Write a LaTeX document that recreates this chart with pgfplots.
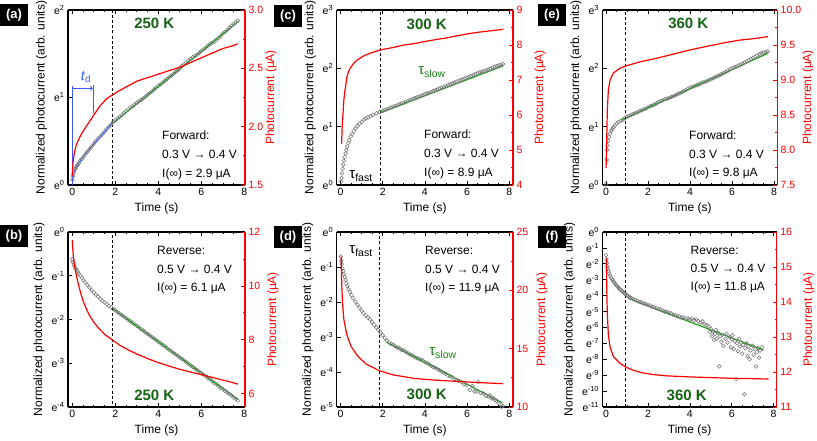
\documentclass[border=0pt]{standalone}
\usepackage{pgfplots}
\pgfplotsset{compat=1.18}
\usepackage{fontspec}
\setmainfont{Liberation Sans}
\setsansfont{Liberation Sans}
\definecolor{fitg}{RGB}{30,160,30}
\definecolor{tg}{RGB}{20,100,20}
\definecolor{dg}{RGB}{115,115,115}
\definecolor{rd}{RGB}{255,0,0}
\definecolor{bl}{RGB}{60,90,255}
\pgfplotsset{
 base/.style={scale only axis, height=175pt, anchor=south west, tick align=inside,
   major tick length=4pt, minor tick length=2.2pt,
   tick label style={font=\fontsize{10.5}{12}\selectfont},
   label style={font=\fontsize{12}{14}\selectfont}},
 lax/.style={base, axis y line*=left, axis line style={line width=1.3pt},
   xtick={0,2,4,6,8}, xticklabels={0,2,4,6,8}, minor x tick num=3,
   tick style={black, line width=0.7pt},
   xlabel={Time (s)}, ylabel={Normalized photocurrent (arb. units)}},
 rax/.style={base, axis y line*=right, axis x line=none,
   axis line style={rd, line width=1.3pt},
   tick style={rd, line width=0.7pt},
   yticklabel style={text=rd},
   ylabel style={text=rd, at={(rel axis cs:#1,0.5)}, anchor=center},
   ylabel={Photocurrent (μA)}, minor y tick num=1},
 pts/.style={only marks, mark=o, mark size=1.9pt, color=dg, mark options={line width=0.5pt}},
 rl/.style={rd, line width=1.2pt, no marks},
 gl/.style={fitg, line width=1.2pt, no marks},
 dl/.style={black, line width=0.8pt, dash pattern=on 3pt off 2.2pt, no marks},
}
\newcommand{\ann}{\fontsize{12}{14}\selectfont}
\newcommand{\tk}{\bfseries\fontsize{15}{15}\selectfont}
\newcommand{\plab}[2]{\node[fill=black, text=white, font=\bfseries\fontsize{13}{13}\selectfont, minimum width=28pt, minimum height=22pt, inner sep=0pt] at #1 {#2};}
\begin{document}
\begin{tikzpicture}
\path[use as bounding box] (0,0) rectangle (817pt,-440pt);

% ---------------- (a)
\begin{axis}[lax, at={(68pt,-185pt)}, width=177pt, xmin=-0.2, xmax=8.03, ymin=0, ymax=2,
  ytick={0,1,2}, yticklabels={e\textsuperscript{0},e\textsuperscript{1},e\textsuperscript{2}}]
\addplot[pts] coordinates {(0.00,0.06)(0.03,0.10)(0.06,0.13)(0.10,0.16)(0.15,0.19)(0.20,0.21)(0.25,0.23)(0.30,0.25)(0.38,0.28)(0.45,0.30)(0.52,0.32)(0.60,0.35)(0.70,0.38)(0.80,0.41)(0.90,0.44)(1.00,0.47)(1.10,0.50)(1.20,0.53)(1.30,0.555)(1.40,0.58)(1.50,0.61)(1.60,0.64)(1.70,0.665)(1.80,0.69)(1.90,0.72)
(2.0,0.74)(2.1,0.76)(2.2,0.78)(2.3,0.80)(2.4,0.82)(2.5,0.845)(2.6,0.865)(2.7,0.885)(2.8,0.90)(2.9,0.92)(3.0,0.94)(3.1,0.955)(3.2,0.975)(3.3,0.99)(3.4,1.01)(3.5,1.03)(3.6,1.05)(3.7,1.07)(3.8,1.09)(3.9,1.115)(4.0,1.135)(4.1,1.15)(4.2,1.17)(4.3,1.19)(4.4,1.21)(4.5,1.23)(4.6,1.25)(4.7,1.27)(4.8,1.29)(4.9,1.31)(5.0,1.33)(5.1,1.36)(5.2,1.38)(5.3,1.40)(5.4,1.42)(5.5,1.44)(5.6,1.46)(5.7,1.475)(5.8,1.49)(5.9,1.51)(6.0,1.53)(6.1,1.55)(6.2,1.57)(6.3,1.59)(6.4,1.61)(6.5,1.625)(6.6,1.64)(6.7,1.66)(6.8,1.68)(6.9,1.705)(7.0,1.73)(7.1,1.75)(7.2,1.77)(7.3,1.795)(7.4,1.82)(7.5,1.84)(7.6,1.86)(7.7,1.88)};
\addplot[bl, line width=0.9pt, no marks] coordinates {(0,0.06)(0.1,0.16)(0.3,0.25)(0.6,0.35)(1.0,0.47)(1.4,0.58)(1.85,0.705)};
\addplot[gl] coordinates {(1.85,0.70)(7.72,1.87)};
\addplot[dl] coordinates {(1.85,-1)(1.85,3)};
\draw[bl, line width=0.9pt] (axis cs:0,0) -- (axis cs:0,1.13);
\draw[bl, line width=0.9pt, ->] (axis cs:0,1.105) -- (axis cs:0.96,1.105);
\draw[bl, line width=0.9pt] (axis cs:0.98,0.82) -- (axis cs:0.98,1.14);
\end{axis}
\begin{axis}[rax=1.147, at={(68pt,-185pt)}, width=177pt, xmin=-0.2, xmax=8.03, ymin=1.5, ymax=3,
  ytick={1.5,2,2.5,3}, yticklabels={1.5,2.0,2.5,3.0}]
\addplot[rl] coordinates {(0,1.58)(0.02,1.66)(0.05,1.72)(0.1,1.78)(0.15,1.82)(0.2,1.85)(0.3,1.89)(0.4,1.93)(0.5,1.96)(0.6,1.99)(0.75,2.03)(0.9,2.07)(1.0,2.10)(1.15,2.14)(1.3,2.18)(1.45,2.21)(1.6,2.24)(1.85,2.27)(2.2,2.31)(2.6,2.35)(3.0,2.39)(3.5,2.42)(4.0,2.45)(4.5,2.48)(5.0,2.51)(5.5,2.55)(6.0,2.59)(6.5,2.63)(7.0,2.67)(7.4,2.69)(7.7,2.71)};
\end{axis}

% ---------------- (c)
\begin{axis}[lax, at={(336.7pt,-185pt)}, width=176.3pt, xmin=-0.18, xmax=8.18, ymin=0, ymax=3,
  ytick={0,1,2,3}, yticklabels={e\textsuperscript{0},e\textsuperscript{1},e\textsuperscript{2},e\textsuperscript{3}}]
\addplot[pts] coordinates {(0.03,0.06)(0.05,0.12)(0.07,0.2)(0.1,0.28)(0.13,0.35)(0.16,0.42)(0.2,0.48)(0.24,0.54)(0.28,0.6)(0.32,0.66)(0.37,0.72)(0.42,0.77)(0.48,0.83)(0.55,0.88)(0.63,0.93)(0.7,0.97)(0.79,1.01)(0.9,1.05)(1.0,1.08)(1.1,1.12)(1.2,1.14)(1.3,1.16)(1.42,1.18)(1.55,1.2)(1.7,1.23)(1.85,1.25)
(2.0,1.27)(2.1,1.285)(2.2,1.30)(2.3,1.315)(2.4,1.33)(2.5,1.345)(2.6,1.355)(2.7,1.37)(2.8,1.385)(2.9,1.40)(3.0,1.41)(3.1,1.425)(3.2,1.44)(3.3,1.455)(3.4,1.47)(3.5,1.485)(3.6,1.50)(3.7,1.51)(3.8,1.525)(3.9,1.54)(4.0,1.555)(4.1,1.57)(4.2,1.58)(4.3,1.595)(4.4,1.61)(4.5,1.625)(4.6,1.64)(4.7,1.655)(4.8,1.67)(4.9,1.685)(5.0,1.70)(5.1,1.715)(5.2,1.73)(5.3,1.74)(5.4,1.755)(5.5,1.77)(5.6,1.785)(5.7,1.80)(5.8,1.81)(5.9,1.825)(6.0,1.84)(6.1,1.855)(6.2,1.87)(6.3,1.885)(6.4,1.90)(6.5,1.915)(6.6,1.93)(6.7,1.94)(6.8,1.95)(6.9,1.965)(7.0,1.98)(7.1,1.995)(7.2,2.01)(7.3,2.025)(7.4,2.04)(7.5,2.05)(7.6,2.065)(7.7,2.075)};
\addplot[gl] coordinates {(1.89,1.24)(7.7,2.04)};
\addplot[dl] coordinates {(1.88,-1)(1.88,4)};
\end{axis}
\begin{axis}[rax=1.153, at={(336.7pt,-185pt)}, width=176.3pt, xmin=-0.18, xmax=8.18, ymin=4, ymax=9,
  ytick={4,5,6,7,8,9}, yticklabels={4,5,6,7,8,9}]
\addplot[rl] coordinates {(0.05,5.17)(0.08,5.67)(0.12,6.05)(0.16,6.43)(0.2,6.65)(0.24,6.81)(0.31,7.10)(0.39,7.25)(0.47,7.35)(0.63,7.48)(0.79,7.57)(1.1,7.69)(1.42,7.77)(1.89,7.86)(2.5,7.93)(3.0,8.0)(3.5,8.04)(4.0,8.1)(4.57,8.16)(5.0,8.2)(5.5,8.26)(6.14,8.33)(6.6,8.37)(7.2,8.41)(7.72,8.45)};
\end{axis}

% ---------------- (e)
\begin{axis}[lax, at={(602.5pt,-185pt)}, width=174.7pt, xmin=-0.17, xmax=8.15, ymin=0, ymax=3,
  ytick={0,1,2,3}, yticklabels={e\textsuperscript{0},e\textsuperscript{1},e\textsuperscript{2},e\textsuperscript{3}}]
\addplot[pts] coordinates {(0.00,0.01)(0.03,0.43)(0.05,0.6)(0.07,0.68)(0.1,0.75)(0.14,0.82)(0.19,0.88)(0.25,0.93)(0.3,0.96)(0.35,0.99)(0.42,1.02)(0.5,1.05)(0.6,1.08)(0.7,1.10)(0.8,1.12)(0.9,1.15)(1.0,1.17)(1.1,1.19)(1.2,1.2)(1.3,1.22)(1.4,1.23)(1.5,1.25)(1.6,1.27)(1.7,1.28)(1.8,1.30)(1.9,1.31)(2.0,1.33)(2.1,1.35)(2.2,1.36)(2.3,1.38)(2.4,1.40)(2.5,1.42)(2.6,1.44)(2.7,1.45)(2.8,1.47)(2.9,1.48)(3.0,1.49)(3.1,1.51)(3.2,1.52)(3.3,1.54)(3.4,1.56)(3.5,1.57)(3.6,1.59)(3.7,1.61)(3.8,1.63)(3.9,1.65)(4.0,1.67)(4.1,1.68)(4.2,1.69)(4.3,1.71)(4.4,1.72)(4.5,1.74)(4.6,1.76)(4.7,1.77)(4.8,1.78)(4.9,1.80)(5.0,1.81)(5.1,1.83)(5.2,1.85)(5.3,1.87)(5.4,1.88)(5.5,1.90)(5.6,1.92)(5.7,1.94)(5.8,1.96)(5.9,1.98)(6.0,2.0)(6.1,2.02)(6.2,2.03)(6.3,2.05)(6.4,2.06)(6.5,2.08)(6.6,2.10)(6.7,2.12)(6.8,2.14)(6.9,2.16)(7.0,2.18)(7.1,2.20)(7.2,2.22)(7.3,2.24)(7.4,2.26)(7.5,2.27)(7.6,2.28)(7.7,2.29)};
\addplot[gl] coordinates {(0.75,1.12)(7.72,2.26)};
\addplot[dl] coordinates {(0.93,-1)(0.93,4)};
\end{axis}
\begin{axis}[rax=1.177, at={(602.5pt,-185pt)}, width=174.7pt, xmin=-0.17, xmax=8.15, ymin=7.5, ymax=10,
  ytick={7.5,8,8.5,9,9.5,10}, yticklabels={7.5,8.0,8.5,9.0,9.5,10.0}]
\addplot[rl] coordinates {(0,7.74)(0.03,8.14)(0.06,8.57)(0.11,8.86)(0.19,9.0)(0.35,9.1)(0.67,9.17)(0.94,9.2)(1.62,9.26)(2.4,9.31)(3.2,9.37)(4.0,9.43)(4.79,9.48)(5.6,9.53)(6.37,9.57)(7.0,9.59)(7.72,9.62)};
\end{axis}

% ---------------- (b)
\begin{axis}[lax, at={(68pt,-407pt)}, width=177pt, xmin=-0.2, xmax=8.03, ymin=-4, ymax=0,
  ytick={-4,-3,-2,-1,0}, yticklabels={e\textsuperscript{-4},e\textsuperscript{-3},e\textsuperscript{-2},e\textsuperscript{-1},e\textsuperscript{0}}]
\addplot[pts] coordinates {(0.0,-0.62)(0.03,-0.68)(0.06,-0.73)(0.1,-0.78)(0.15,-0.83)(0.2,-0.87)(0.25,-0.91)(0.3,-0.95)(0.38,-1.0)(0.45,-1.05)(0.52,-1.1)(0.6,-1.15)(0.7,-1.21)(0.8,-1.27)(0.9,-1.33)(1.0,-1.38)(1.1,-1.43)(1.2,-1.48)(1.3,-1.53)(1.4,-1.57)(1.5,-1.61)(1.6,-1.65)(1.7,-1.69)(1.8,-1.72)(1.9,-1.76)
(2.0,-1.79)(2.1,-1.83)(2.2,-1.86)(2.3,-1.90)(2.4,-1.93)(2.5,-1.97)(2.6,-2.01)(2.7,-2.04)(2.8,-2.07)(2.9,-2.11)(3.0,-2.15)(3.1,-2.18)(3.2,-2.22)(3.3,-2.25)(3.4,-2.29)(3.5,-2.33)(3.6,-2.36)(3.7,-2.40)(3.8,-2.43)(3.9,-2.47)(4.0,-2.51)(4.1,-2.54)(4.2,-2.58)(4.3,-2.61)(4.4,-2.65)(4.5,-2.69)(4.6,-2.72)(4.7,-2.76)(4.8,-2.79)(4.9,-2.83)(5.0,-2.87)(5.1,-2.90)(5.2,-2.94)(5.3,-2.97)(5.4,-3.01)(5.5,-3.05)(5.6,-3.08)(5.7,-3.12)(5.8,-3.15)(5.9,-3.19)(6.0,-3.23)(6.1,-3.26)(6.2,-3.30)(6.3,-3.34)(6.4,-3.37)(6.5,-3.41)(6.6,-3.45)(6.7,-3.48)(6.8,-3.52)(6.9,-3.56)(7.0,-3.59)(7.1,-3.63)(7.2,-3.67)(7.3,-3.70)(7.4,-3.74)(7.5,-3.78)(7.6,-3.81)(7.7,-3.85)};
\addplot[gl] coordinates {(1.85,-1.74)(7.7,-3.83)};
\addplot[dl] coordinates {(1.85,-5)(1.85,1)};
\end{axis}
\begin{axis}[rax=1.158, at={(68pt,-407pt)}, width=177pt, xmin=-0.2, xmax=8.03, ymin=5.5, ymax=12,
  ytick={6,8,10,12}, yticklabels={6,8,10,12}]
\addplot[rl] coordinates {(0,11.7)(0.02,11.4)(0.05,11.1)(0.1,10.8)(0.15,10.55)(0.2,10.35)(0.3,10.0)(0.4,9.7)(0.5,9.45)(0.65,9.15)(0.8,8.9)(1.0,8.65)(1.2,8.45)(1.5,8.2)(1.85,8.0)(2.2,7.8)(2.6,7.62)(3.0,7.47)(3.5,7.3)(4.0,7.15)(4.5,7.02)(5.0,6.9)(5.5,6.8)(6.0,6.7)(6.5,6.6)(7.0,6.5)(7.4,6.42)(7.7,6.35)};
\end{axis}

% ---------------- (d)
\begin{axis}[lax, at={(336.7pt,-407pt)}, width=176.3pt, xmin=-0.18, xmax=8.18, ymin=-5, ymax=0,
  ytick={-5,-4,-3,-2,-1,0}, yticklabels={e\textsuperscript{-5},e\textsuperscript{-4},e\textsuperscript{-3},e\textsuperscript{-2},e\textsuperscript{-1},e\textsuperscript{0}}]
\addplot[pts] coordinates {(0.02,-0.7)(0.04,-0.82)(0.06,-0.92)(0.09,-1.04)(0.12,-1.12)(0.16,-1.2)(0.2,-1.29)(0.24,-1.37)(0.28,-1.46)(0.32,-1.54)(0.38,-1.63)(0.45,-1.72)(0.52,-1.8)(0.6,-1.89)(0.7,-1.99)(0.8,-2.08)(0.9,-2.17)(1.0,-2.25)(1.1,-2.32)(1.2,-2.38)(1.3,-2.44)(1.4,-2.5)(1.5,-2.58)(1.6,-2.65)(1.7,-2.72)(1.8,-2.8)(1.9,-2.87)(2.0,-2.95)(2.1,-3.03)(2.2,-3.1)(2.3,-3.15)(2.4,-3.2)(2.5,-3.22)(2.6,-3.26)(2.7,-3.3)(2.8,-3.32)(2.9,-3.37)(3.0,-3.38)(3.1,-3.42)(3.2,-3.47)(3.3,-3.5)(3.4,-3.52)(3.5,-3.56)(3.6,-3.6)(3.7,-3.62)(3.8,-3.65)(3.9,-3.67)(4.0,-3.72)(4.1,-3.74)(4.2,-3.78)(4.3,-3.82)(4.4,-3.86)(4.5,-3.88)(4.6,-3.92)(4.7,-3.95)(4.8,-3.99)(4.9,-4.02)(5.0,-4.05)(5.1,-4.1)(5.2,-4.12)(5.3,-4.15)(5.4,-4.2)(5.5,-4.23)(5.6,-4.25)(5.74,-4.28)(5.85,-4.35)(5.98,-4.37)(6.13,-4.51)(6.25,-4.4)(6.35,-4.55)(6.45,-4.56)(6.53,-4.28)(6.65,-4.6)(6.77,-4.61)(6.9,-4.68)(7.0,-4.7)(7.08,-4.66)(7.16,-4.75)(7.24,-4.75)(7.32,-4.8)(7.4,-4.82)(7.52,-4.9)(7.64,-4.99)(7.7,-4.97)};
\addplot[gl] coordinates {(2.2,-3.15)(7.68,-4.88)};
\addplot[dl] coordinates {(1.85,-6)(1.85,1)};
\end{axis}
\begin{axis}[rax=1.164, at={(336.7pt,-407pt)}, width=176.3pt, xmin=-0.18, xmax=8.18, ymin=10, ymax=25,
  ytick={10,15,20,25}, yticklabels={10,15,20,25}]
\addplot[rl] coordinates {(0.03,22.9)(0.06,20.5)(0.1,18.8)(0.16,17.5)(0.3,16.2)(0.5,15.2)(0.8,14.4)(1.2,13.7)(1.85,13.1)(2.5,12.75)(3.5,12.45)(4.5,12.3)(5.5,12.2)(6.5,12.1)(7.7,12.0)};
\end{axis}

% ---------------- (f)
\begin{axis}[lax, at={(602.5pt,-407pt)}, width=174.3pt, xmin=-0.17, xmax=8.15, ymin=-11, ymax=0,
  ytick={-11,-10,...,0}, yticklabels={e\textsuperscript{-11},e\textsuperscript{-10},e\textsuperscript{-9},e\textsuperscript{-8},e\textsuperscript{-7},e\textsuperscript{-6},e\textsuperscript{-5},e\textsuperscript{-4},e\textsuperscript{-3},e\textsuperscript{-2},e\textsuperscript{-1},e\textsuperscript{0}}]
\addplot[pts] coordinates {(0.0,-1.45)(0.02,-1.7)(0.04,-1.95)(0.06,-2.15)(0.08,-2.3)(0.11,-2.45)(0.15,-2.6)(0.2,-2.75)(0.25,-2.88)(0.3,-3.0)(0.35,-3.1)(0.4,-3.2)(0.45,-3.28)(0.5,-3.36)(0.55,-3.44)(0.6,-3.52)(0.65,-3.58)(0.7,-3.65)(0.75,-3.7)(0.8,-3.76)(0.85,-3.82)(0.9,-3.87)(0.95,-3.92)(1.0,-3.98)(1.05,-4.03)(1.1,-4.08)(1.15,-4.12)(1.2,-4.16)(1.3,-4.22)(1.4,-4.28)(1.5,-4.33)(1.6,-4.4)(1.7,-4.42)(1.8,-4.5)(1.9,-4.52)(2.0,-4.6)(2.1,-4.62)(2.2,-4.7)(2.3,-4.72)(2.4,-4.8)(2.5,-4.83)(2.6,-4.88)(2.7,-4.95)(2.8,-5.0)(2.9,-5.02)(3.0,-5.1)(3.1,-5.12)(3.2,-5.2)(3.3,-5.22)(3.4,-5.3)(3.5,-5.3)(3.6,-5.38)(3.7,-5.35)(3.8,-5.45)(3.9,-5.42)(4.0,-5.5)(4.1,-5.45)(4.2,-5.55)(4.3,-5.5)(4.4,-5.6)(4.5,-5.7)(4.6,-5.62)(4.7,-5.8)
(4.8,-5.85)(4.9,-5.95)(4.95,-6.3)(5.0,-6.1)(5.05,-6.55)(5.1,-6.25)(5.15,-6.8)(5.2,-6.4)(5.25,-6.15)(5.3,-6.7)(5.35,-6.35)(5.4,-8.45)(5.45,-6.55)(5.5,-6.9)(5.55,-6.45)(5.6,-7.15)(5.7,-6.7)(5.75,-6.4)(5.8,-6.95)(5.9,-6.6)(5.95,-7.25)(6.0,-6.75)(6.05,-6.5)(6.1,-7.35)(6.15,-6.85)(6.2,-9.25)(6.25,-7.0)(6.3,-7.5)(6.35,-6.7)(6.4,-7.2)(6.45,-6.95)(6.5,-7.65)(6.55,-7.1)(6.6,-10.2)(6.65,-7.3)(6.7,-7.0)(6.75,-7.8)(6.8,-7.2)(6.85,-8.0)(6.9,-7.45)(7.0,-7.15)(7.05,-7.7)(7.1,-7.35)(7.15,-8.45)(7.2,-7.55)(7.25,-7.3)(7.3,-7.9)(7.35,-7.45)(7.45,-7.25)};
\addplot[gl] coordinates {(1.06,-4.17)(7.52,-7.42)};
\addplot[dl] coordinates {(0.93,-12)(0.93,1)};
\end{axis}
\begin{axis}[rax=1.184, at={(602.5pt,-407pt)}, width=174.3pt, xmin=-0.17, xmax=8.15, ymin=11, ymax=16,
  ytick={11,12,13,14,15,16}, yticklabels={11,12,13,14,15,16}]
\addplot[rl] coordinates {(0.02,15.25)(0.03,14.44)(0.06,13.68)(0.11,13.05)(0.19,12.72)(0.35,12.44)(0.67,12.25)(0.94,12.14)(1.3,12.05)(1.7,11.98)(2.2,11.93)(2.9,11.89)(4.0,11.86)(5.0,11.84)(6.0,11.82)(7.0,11.81)(7.76,11.8)};
\end{axis}

% ---------------- annotations
\plab{(14pt,-15pt)}{(a)}
\plab{(288pt,-16pt)}{(c)}
\plab{(552pt,-15pt)}{(e)}
\plab{(14pt,-236pt)}{(b)}
\plab{(288pt,-237pt)}{(d)}
\plab{(552pt,-237pt)}{(f)}

\node[text=tg, font=\tk] at (154.3pt,-23.3pt) {250 K};
\node[text=tg, font=\tk] at (426.7pt,-24pt) {300 K};
\node[text=tg, font=\tk] at (688.3pt,-23.3pt) {360 K};
\node[text=tg, font=\tk] at (154.3pt,-395pt) {250 K};
\node[text=tg, font=\tk] at (426.7pt,-394pt) {300 K};
\node[text=tg, font=\tk] at (686.7pt,-395pt) {360 K};

\begin{scope}[every node/.style={anchor=base west, font=\ann, inner sep=0pt}]
\node at (162pt,-139.5pt) {Forward:};
\node at (162pt,-158.5pt) {0.3 V → 0.4 V};
\node at (162pt,-177.5pt) {I(∞) = 2.9 μA};
\node at (424pt,-138pt) {Forward:};
\node at (424pt,-157pt) {0.3 V → 0.4 V};
\node at (424pt,-176pt) {I(∞) = 8.9 μA};
\node at (689pt,-139pt) {Forward:};
\node at (689pt,-158pt) {0.3 V → 0.4 V};
\node at (689pt,-176pt) {I(∞) = 9.8 μA};
\node at (157pt,-254pt) {Reverse:};
\node at (157pt,-273pt) {0.5 V → 0.4 V};
\node at (157pt,-291.5pt) {I(∞) = 6.1 μA};
\node at (425pt,-254pt) {Reverse:};
\node at (425pt,-273pt) {0.5 V → 0.4 V};
\node at (425pt,-291.5pt) {I(∞) = 11.9 μA};
\node at (690.5pt,-254pt) {Reverse:};
\node at (690.5pt,-272.5pt) {0.5 V → 0.4 V};
\node at (690.5pt,-290.5pt) {I(∞) = 11.8 μA};
\end{scope}

\node[text=bl, font=\fontsize{14}{14}\selectfont] at (86pt,-77pt) {\textit{t}\textsubscript{d}};
\node[font=\fontsize{15}{15}\selectfont] at (361pt,-176pt) {τ\textsubscript{fast}};
\node[font=\fontsize{15}{15}\selectfont] at (361pt,-251pt) {τ\textsubscript{fast}};
\node[text=fitg!80!black, font=\fontsize{15}{15}\selectfont] at (432pt,-72pt) {τ\textsubscript{slow}};
\node[text=fitg!80!black, font=\fontsize{15}{15}\selectfont] at (443pt,-353pt) {τ\textsubscript{slow}};
\end{tikzpicture}
\end{document}
